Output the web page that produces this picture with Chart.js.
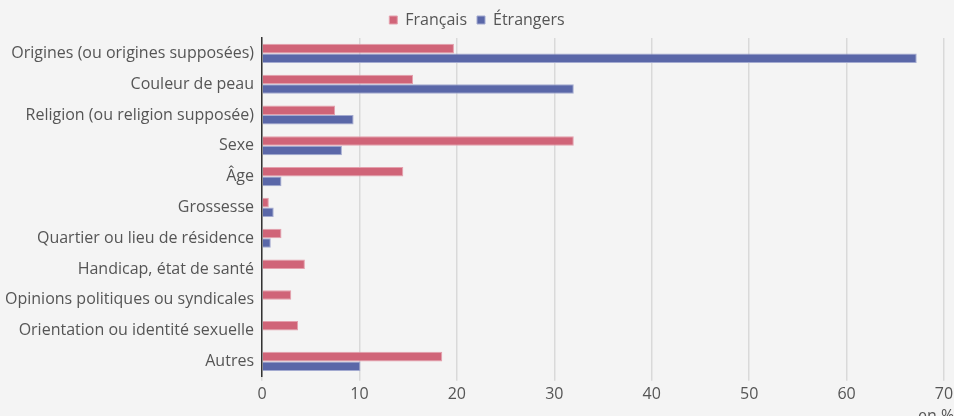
<!DOCTYPE html>
<html lang="fr">
<head>
<meta charset="utf-8">
<script src="https://cdn.jsdelivr.net/npm/chart.js@4/dist/chart.umd.min.js"></script>
<style>
    html, body { margin: 0; padding: 0; background: #f4f4f4; }
    #wrap { width: 954px; height: 416px; }
</style>
</head>
<body>
<div id="wrap"><canvas id="chart"></canvas></div>
<script>
const categories = [
    'Origines (ou origines supposées)',
    'Couleur de peau',
    'Religion (ou religion supposée)',
    'Sexe',
    'Âge',
    'Grossesse',
    'Quartier ou lieu de résidence',
    'Handicap, état de santé',
    'Opinions politiques ou syndicales',
    'Orientation ou identité sexuelle',
    'Autres',
];
const francais = [19.7, 15.5, 7.5, 32.0, 14.5, 0.7, 2.0, 4.4, 3.0, 3.7, 18.5];
const etrangers = [67.2, 32.0, 9.4, 8.2, 2.0, 1.2, 0.9, 0.1, 0, 0, 10.1];
const xTicks = [0, 10, 20, 30, 40, 50, 60, 70];

const font = { family: '"Open Sans"', size: 16 };

const unitLabel = {
    id: 'unitLabel',
    afterDraw(chart) {
        const { ctx, scales } = chart;
        const x = scales.x.getPixelForValue(70);
        ctx.save();
        ctx.font = '16px "Open Sans"';
        ctx.fillStyle = '#555';
        ctx.textAlign = 'left';
        ctx.textBaseline = 'alphabetic';
        ctx.fillText('en %', x - 26, 421);
        ctx.restore();
    },
};

new Chart(document.getElementById('chart'), {
    type: 'bar',
    data: {
        labels: categories,
        datasets: [
            {
                label: 'Français',
                data: francais,
                backgroundColor: '#d06478',
                borderColor: '#e4a0ad',
                borderWidth: 1,
                borderSkipped: 'left',
                categoryPercentage: 0.62,
                barPercentage: 1,
            },
            {
                label: 'Étrangers',
                data: etrangers,
                backgroundColor: '#5a67a8',
                borderColor: '#a3aad0',
                borderWidth: 1,
                borderSkipped: 'left',
                categoryPercentage: 0.62,
                barPercentage: 1,
            },
        ],
    },
    options: {
        indexAxis: 'y',
        responsive: true,
        maintainAspectRatio: false,
        animation: false,
        layout: { padding: { left: 0, right: 0, top: 2, bottom: 8 } },
        plugins: {
            legend: {
                labels: {
                    boxWidth: 8,
                    boxHeight: 8,
                    padding: 10,
                    color: '#555',
                    font,
                },
            },
            tooltip: { enabled: false },
        },
        scales: {
            x: {
                min: 0,
                max: 70,
                afterBuildTicks: (scale) => {
                    scale.ticks = xTicks.map((value) => ({ value }));
                },
                afterFit: (scale) => {
                    scale.paddingRight = 10;
                },
                grid: { color: '#d9d9d9', lineWidth: 1.5, tickLength: 4 },
                border: { display: false },
                ticks: { color: '#555', padding: 4, font },
            },
            y: {
                afterFit: (scale) => {
                    scale.width -= 3;
                },
                grid: { display: false, drawTicks: false },
                border: { color: '#333', width: 1.5 },
                ticks: { color: '#555', padding: 8, font },
            },
        },
    },
    plugins: [unitLabel],
});
</script>
</body>
</html>
